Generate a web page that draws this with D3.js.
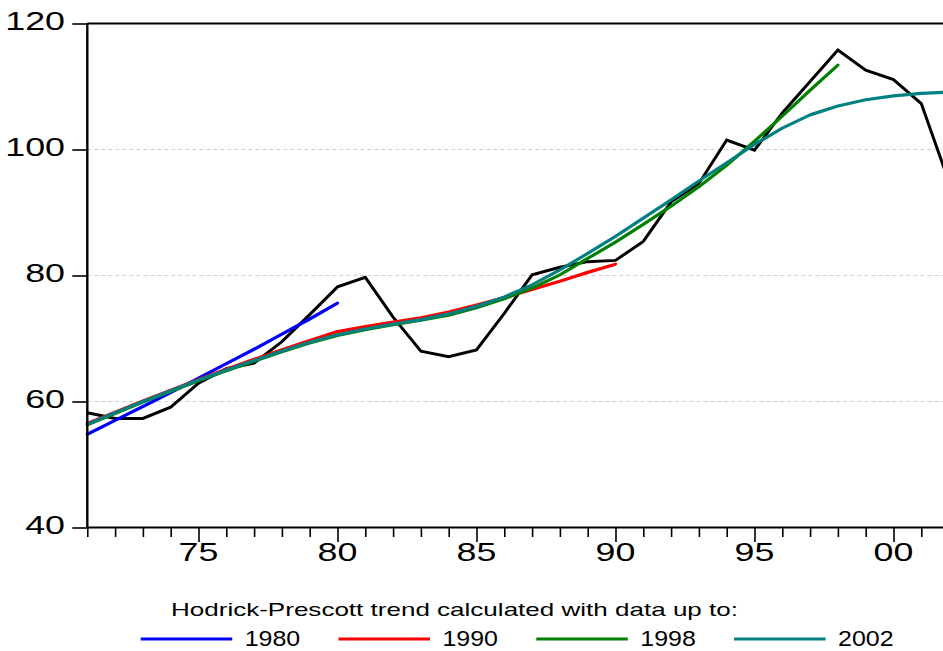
<!DOCTYPE html>
<html>
<head>
<meta charset="utf-8">
<script src="https://cdn.jsdelivr.net/npm/d3@7/dist/d3.min.js"></script>
<style>
  html, body { margin: 0; padding: 0; background: #fff; }
  svg { display: block; font-family: "Liberation Sans", Arial, sans-serif; }
</style>
</head>
<body>
<svg id="chart" width="943" height="651"></svg>
<script>
// Annual observations, 1971-2002
const years = d3.range(1971, 2003);
const actual = [58.2, 57.3, 57.3, 59.1, 62.9, 65.2, 66.1, 69.5, 73.8, 78.2,
                79.7, 73.4, 68.0, 67.1, 68.2, 74.0, 80.1, 81.3, 82.2, 82.4,
                85.4, 91.7, 94.6, 101.5, 99.9, 105.8, 110.8, 115.8, 112.6, 111.1,
                107.3, 94.8];

// Hodrick-Prescott trends, each estimated on data ending in the given year
const trend1980 = [54.8, 57.0, 59.2, 61.4, 63.7, 66.0, 68.3, 70.7, 73.1, 75.6];
const trend1990 = [56.5, 58.3, 60.1, 61.8, 63.5, 65.1, 66.7, 68.2, 69.7, 71.1,
                   71.9, 72.6, 73.3, 74.2, 75.3, 76.5, 77.8, 79.1, 80.5, 81.8];
const trend1998 = [56.3, 58.1, 59.9, 61.6, 63.3, 64.9, 66.4, 67.9, 69.3, 70.5,
                   71.4, 72.2, 72.9, 73.7, 74.9, 76.3, 78.0, 80.1, 82.7, 85.3,
                   88.1, 91.0, 94.1, 97.5, 101.3, 105.3, 109.4, 113.4];
const trend2002 = [56.4, 58.2, 60.0, 61.7, 63.4, 65.0, 66.5, 68.0, 69.4, 70.6,
                   71.5, 72.3, 73.0, 73.9, 75.1, 76.6, 78.5, 80.9, 83.5, 86.2,
                   89.1, 92.0, 95.0, 97.9, 100.8, 103.4, 105.5, 106.9, 107.9, 108.5,
                   108.9, 109.1];

const yTicks = [40, 60, 80, 100, 120];
const gridValues = [60, 80, 100];
const xLabelYears = [1975, 1980, 1985, 1990, 1995, 2000];

const legendTitle = "Hodrick-Prescott trend calculated with data up to:";
const legendLabels = ["1980", "1990", "1998", "2002"];
const seriesColors = ["#0000ff", "#ff0000", "#008000", "#008080"];
const trends = [trend1980, trend1990, trend1998, trend2002];

const svg = d3.select("#chart");
const W = 943;

const x = d3.scaleLinear().domain([1971, 2002]).range([87.3, 87.3 + 31 * 27.8]);
const y = d3.scaleLinear().domain([40, 120]).range([527.5, 23.5]);

// dashed gridlines
svg.append("g").selectAll("line").data(gridValues).join("line")
  .attr("x1", x(1971)).attr("x2", W)
  .attr("y1", d => y(d)).attr("y2", d => y(d))
  .attr("stroke", "#cfcfcf").attr("stroke-width", 1)
  .attr("stroke-dasharray", "4,3");

// series lines
const line = d3.line().x(d => x(d[0])).y(d => y(d[1]));
const pairs = vals => vals.map((v, i) => [years[i], v]);

svg.append("path").datum(pairs(actual))
  .attr("d", line).attr("fill", "none")
  .attr("stroke", "#000").attr("stroke-width", 3)
  .attr("stroke-linejoin", "miter");

trends.forEach((t, i) => {
  svg.append("path").datum(pairs(t))
    .attr("d", line).attr("fill", "none")
    .attr("stroke", seriesColors[i]).attr("stroke-width", 3.2)
    .attr("stroke-linejoin", "round").attr("stroke-linecap", "round");
});

// frame: top border
svg.append("line")
  .attr("x1", x(1971)).attr("x2", W + 10)
  .attr("y1", y(120)).attr("y2", y(120))
  .attr("stroke", "#000").attr("stroke-width", 2.2);

// bottom axis with yearly ticks, longer every five years
const xAxis = d3.axisBottom(x).tickValues(years).tickFormat("").tickSizeOuter(0);
const gx = svg.append("g").attr("transform", `translate(0,${y(40)})`).call(xAxis);
gx.select(".domain").attr("d", `M${x(1971)},0H${W + 10}`)
  .attr("stroke", "#000").attr("stroke-width", 2.2);
gx.selectAll(".tick line")
  .attr("y2", d => (d % 5 === 0 ? 14.5 : 9.5))
  .attr("stroke", "#000").attr("stroke-width", 1.6);

svg.append("g").selectAll("text").data(xLabelYears).join("text")
  .attr("transform", d => `translate(${x(d)},560.5) scale(1.4,1)`)
  .attr("text-anchor", "middle")
  .attr("font-size", 25.6)
  .attr("fill", "#000")
  .text(d => String(d % 100).padStart(2, "0"));

// left axis
const yAxis = d3.axisLeft(y).tickValues(yTicks).tickFormat("").tickSize(15).tickSizeOuter(0);
const gy = svg.append("g").attr("transform", `translate(${x(1971)},0)`).call(yAxis);
gy.select(".domain").attr("d", `M0,${y(40)}V${y(120)}`)
  .attr("stroke", "#000").attr("stroke-width", 2.4);
gy.selectAll(".tick line").attr("stroke", "#000").attr("stroke-width", 1.6);

svg.append("g").selectAll("text").data(yTicks).join("text")
  .attr("transform", d => `translate(65,${y(d) + 6.5}) scale(1.4,1)`)
  .attr("text-anchor", "end")
  .attr("font-size", 25.6)
  .attr("fill", "#000")
  .text(d => d);

// legend
svg.append("text")
  .attr("x", 171).attr("y", 615.5)
  .attr("font-size", 19)
  .attr("textLength", 567).attr("lengthAdjust", "spacingAndGlyphs")
  .attr("fill", "#000")
  .text(legendTitle);

const legend = svg.append("g").selectAll("g").data(legendLabels).join("g")
  .attr("transform", (d, i) => `translate(${140.7 + i * 197.8},0)`);
legend.append("line")
  .attr("x1", 0).attr("x2", 91.5)
  .attr("y1", 639).attr("y2", 639)
  .attr("stroke", (d, i) => seriesColors[i]).attr("stroke-width", 3);
legend.append("text")
  .attr("x", 104).attr("y", 646)
  .attr("font-size", 22)
  .attr("textLength", 55.5).attr("lengthAdjust", "spacingAndGlyphs")
  .attr("fill", "#000")
  .text(d => d);
</script>
</body>
</html>
